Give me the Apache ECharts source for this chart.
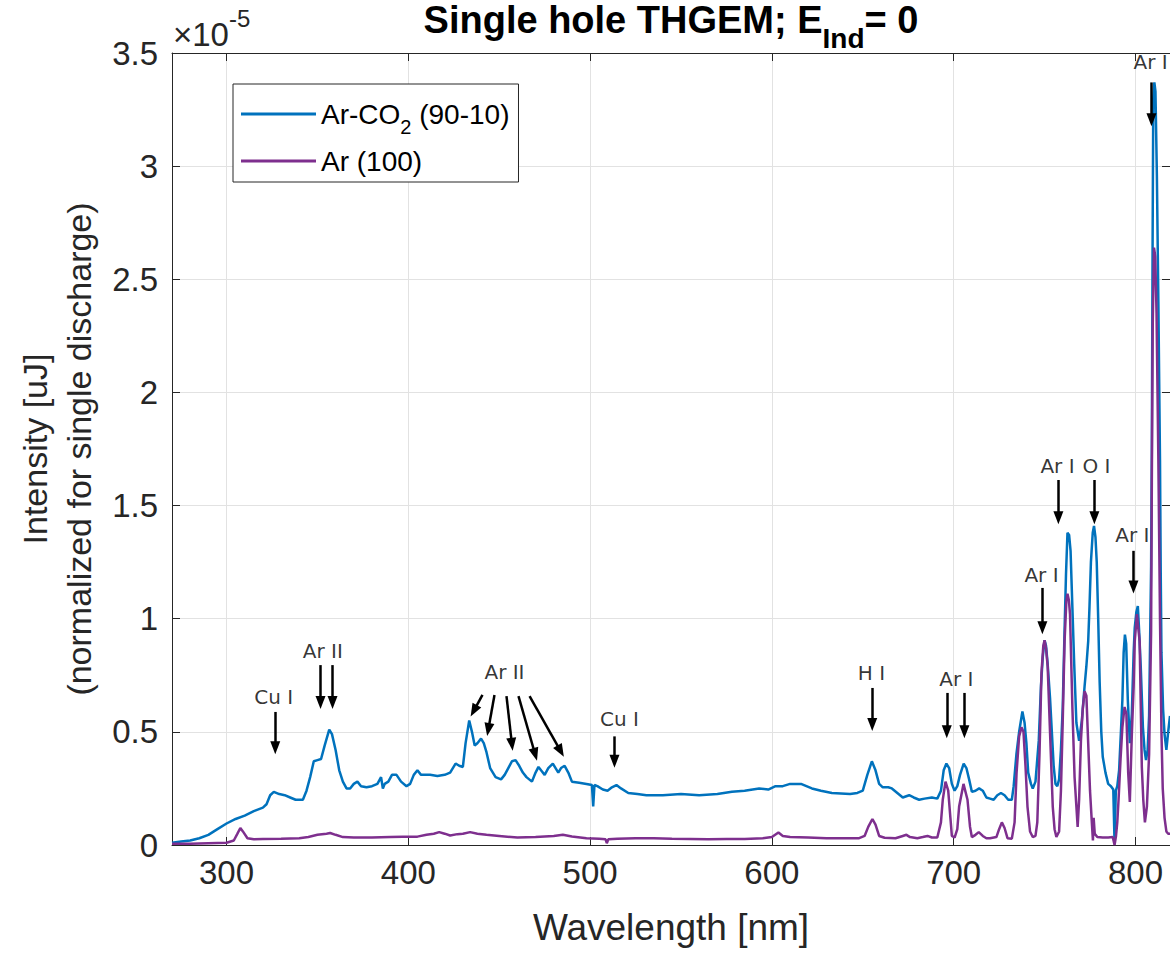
<!DOCTYPE html>
<html>
<head>
<meta charset="utf-8">
<script src="https://cdn.jsdelivr.net/npm/echarts@6/dist/echarts.min.js"></script>
<style>html,body{margin:0;padding:0;background:#fff}#c{width:1170px;height:954px}</style>
</head>
<body>
<div id="c"></div>
<script>
// ---- DATA (intensity in units of 1e-5 uJ, wavelength in nm) ----
const seriesNames = ['Ar-CO2 (90-10)', 'Ar (100)'];

const arCO2 = [
[270,0.01],[275,0.015],[280,0.02],[285,0.03],[290,0.045],[295,0.07],[300,0.095],[305,0.115],[310,0.13],[315,0.15],[320,0.165],[322,0.18],[324,0.22],[326,0.235],[329,0.225],[332,0.22],[335,0.21],[338,0.2],[342,0.2],[344,0.24],[346,0.3],[348,0.37],[350,0.375],[352,0.38],[354,0.44],[356.5,0.51],[358,0.49],[360,0.42],[362,0.33],[364,0.28],[366,0.25],[368,0.25],[370,0.27],[372,0.28],[374,0.26],[377,0.255],[380,0.26],[383,0.27],[385,0.3],[386,0.25],[387,0.27],[389,0.28],[391,0.31],[393.5,0.31],[396,0.28],[399,0.26],[401,0.27],[403,0.31],[405,0.33],[407,0.31],[409,0.31],[412,0.31],[416,0.305],[420,0.31],[423,0.32],[426,0.36],[428,0.35],[430,0.345],[431.5,0.45],[433.5,0.55],[435,0.5],[436.5,0.44],[438,0.45],[440,0.47],[441.5,0.45],[443,0.41],[445,0.34],[448,0.3],[451,0.29],[453,0.31],[455,0.34],[457,0.37],[459,0.375],[461,0.35],[463,0.32],[465,0.3],[468,0.28],[470,0.32],[471.6,0.345],[473,0.33],[475,0.31],[477,0.34],[479.5,0.36],[481,0.34],[482.5,0.32],[484,0.34],[486,0.35],[488,0.32],[490,0.28],[494,0.275],[498,0.27],[501,0.265],[501.7,0.17],[502.4,0.265],[504,0.26],[507,0.245],[509.6,0.24],[512,0.255],[514.5,0.265],[517,0.25],[521,0.23],[526,0.225],[531,0.22],[540,0.22],[550,0.225],[560,0.22],[570,0.225],[578,0.235],[585,0.24],[593,0.25],[598,0.245],[602,0.26],[606,0.26],[610,0.27],[616,0.27],[619,0.26],[622,0.25],[627,0.24],[633,0.23],[638,0.228],[643,0.225],[647,0.23],[650,0.24],[652.5,0.31],[655,0.37],[657,0.33],[659,0.27],[661,0.255],[664,0.255],[666,0.25],[669,0.23],[672,0.21],[675.5,0.22],[678,0.21],[681,0.2],[684,0.205],[688,0.21],[691,0.205],[693,0.24],[694.5,0.33],[696,0.36],[697.5,0.34],[699,0.27],[700.5,0.24],[702,0.26],[703.5,0.31],[705.5,0.36],[707,0.34],[708.5,0.29],[710,0.235],[712,0.24],[714,0.25],[716,0.24],[718,0.21],[720,0.205],[722,0.2],[724,0.22],[726,0.23],[728,0.22],[730,0.2],[732,0.2],[733,0.26],[734.5,0.4],[736,0.5],[737.8,0.59],[739,0.54],[740,0.45],[741,0.32],[742.5,0.27],[743.5,0.25],[745,0.28],[746.8,0.46],[748,0.7],[749,0.83],[750,0.905],[750.8,0.88],[751.7,0.8],[753,0.65],[754,0.5],[755,0.35],[756,0.27],[757,0.26],[758,0.29],[759,0.42],[760,0.61],[761,0.95],[761.8,1.2],[762.6,1.38],[763.5,1.37],[764.3,1.3],[765.3,1.05],[766.3,0.8],[767.5,0.54],[769,0.46],[770.5,0.55],[772,0.7],[773,0.79],[774,0.9],[774.7,1.05],[775.5,1.25],[776.5,1.38],[777.2,1.41],[778,1.36],[778.7,1.25],[779.5,1.0],[780.3,0.72],[781.2,0.5],[782,0.39],[783.5,0.32],[785,0.27],[786.5,0.26],[787.8,0.245],[788.5,0.01],[789.2,0.24],[790,0.26],[791,0.33],[792,0.5],[792.8,0.64],[793.5,0.85],[794.2,0.93],[794.9,0.89],[795.8,0.64],[796.9,0.45],[798,0.58],[799,0.85],[799.6,0.96],[800.5,1.03],[801.3,1.056],[802,0.95],[802.9,0.79],[804.1,0.52],[805,0.42],[805.8,0.375],[806.7,0.42],[807.5,0.57],[808.6,1.23],[809,1.75],[809.4,2.6],[809.8,3.3],[810.4,3.37],[811,3.33],[811.8,2.95],[812.6,2.4],[813.5,1.7],[813.9,1.2],[814.3,0.85],[815.2,0.6],[816,0.49],[817,0.42],[818,0.5],[819,0.57]
];

const ar100 = [
[270,0.005],[280,0.005],[290,0.008],[300,0.01],[304,0.02],[306,0.05],[307.6,0.075],[309,0.06],[311.5,0.03],[315,0.025],[320,0.027],[330,0.028],[340,0.03],[345,0.035],[350,0.045],[355,0.05],[357,0.053],[360,0.045],[364,0.035],[370,0.033],[380,0.033],[390,0.035],[397,0.036],[405,0.037],[410,0.045],[414,0.05],[417,0.057],[420,0.05],[423,0.042],[427,0.048],[430,0.05],[434,0.057],[438,0.05],[443,0.045],[450,0.04],[460,0.033],[470,0.035],[480,0.04],[485,0.045],[490,0.038],[498,0.03],[505,0.028],[508.5,0.025],[509.2,0.008],[510,0.025],[515,0.028],[525,0.03],[535,0.03],[545,0.028],[555,0.027],[565,0.025],[575,0.026],[585,0.027],[595,0.03],[600,0.035],[603.6,0.055],[606,0.04],[610,0.035],[620,0.033],[630,0.03],[640,0.03],[648,0.03],[651,0.04],[653,0.08],[655.3,0.115],[657,0.09],[659,0.04],[662,0.032],[668,0.03],[672,0.04],[674,0.045],[676,0.035],[680,0.03],[683,0.035],[685.6,0.04],[688,0.033],[691,0.033],[693,0.1],[694,0.2],[695.5,0.28],[697,0.24],[698.2,0.12],[699,0.04],[700.5,0.033],[702,0.07],[703,0.17],[705.4,0.27],[707.6,0.2],[709,0.08],[710,0.035],[712,0.045],[713.8,0.057],[716,0.04],[718,0.03],[720,0.03],[723.5,0.035],[725,0.07],[726.5,0.1],[728,0.075],[729.6,0.03],[732,0.028],[733.5,0.1],[734.6,0.32],[736,0.48],[737.3,0.52],[738.4,0.5],[739.5,0.35],[740.6,0.17],[742,0.06],[743.5,0.035],[745,0.04],[746,0.1],[747.2,0.4],[748.3,0.76],[749.3,0.88],[750,0.905],[750.8,0.87],[751.7,0.79],[753,0.5],[754.5,0.17],[755.5,0.07],[756.5,0.035],[758,0.06],[759,0.24],[760,0.55],[761,0.9],[762,1.08],[762.6,1.11],[763.4,1.08],[764,1.02],[765.3,0.61],[766.5,0.3],[767.5,0.17],[768.2,0.08],[769,0.2],[770,0.46],[771,0.6],[772,0.68],[773,0.66],[774,0.45],[775,0.24],[776,0.1],[776.6,0.02],[777,0.12],[777.6,0.05],[779,0.035],[782,0.033],[785,0.033],[787.5,0.035],[788.5,0.0],[789.3,0.04],[790,0.1],[790.7,0.2],[791.8,0.38],[792.8,0.52],[794,0.61],[795,0.58],[796,0.32],[796.9,0.19],[798,0.49],[799,0.7],[799.6,0.9],[800.8,1.02],[802.3,0.9],[803.5,0.345],[804.3,0.2],[805.2,0.1],[806.3,0.17],[807.5,0.4],[808.6,0.94],[809,1.6],[809.5,2.3],[810.2,2.64],[810.9,2.6],[811.6,2.35],[812.6,1.7],[813.5,1.0],[814.3,0.5],[815,0.25],[816,0.12],[817,0.06],[818,0.05],[819,0.05]
];

// emission-line annotations: [text, wavelength, intensity of text centre]
const lineLabels = [
['Cu I',326,0.654],['Ar II',353,0.857],['Ar II',452.9,0.765],['Cu I',516.2,0.557],
['H I',654.8,0.76],['Ar I',701.5,0.733],['Ar I',748.3,1.193],['Ar I',757.1,1.675],
['O I',778.5,1.675],['Ar I',798.3,1.37],['Ar I',808.3,3.46]
];
// arrows: [from wavelength, from intensity, to wavelength, to intensity]
const lineArrows = [
[326.8,0.588,326.8,0.43],[351.7,0.795,351.7,0.63],[358.3,0.795,358.3,0.63],
[440.8,0.663,436.0,0.593],[447.4,0.663,444.0,0.51],[454,0.658,457.0,0.445],[460.6,0.658,469.8,0.40],[466.7,0.658,483.8,0.415],
[513.4,0.48,513.4,0.37],[655.2,0.694,655.2,0.533],[696.2,0.672,696.2,0.50],[705.9,0.672,705.9,0.50],
[748.8,1.136,748.8,0.96],[757.6,1.613,757.6,1.446],[777.4,1.613,777.4,1.446],[798.9,1.30,798.9,1.14],[808.8,3.37,808.8,3.205]
];

const xRange = [270, 819];
const yRange = [0, 3.5];
const yStep = 0.5;

// ---- CHART ----
const FONT = '"Liberation Sans", Arial, Helvetica, sans-serif';
const AX = '#262626';
const GRIDC = '#e2e2e2';
const chart = echarts.init(document.getElementById('c'), null, {renderer: 'svg', width: 1170, height: 954});

const tickStyle = {inside: true, length: 8, lineStyle: {color: AX, width: 1}};
const option = {
  animation: false,
  backgroundColor: '#ffffff',
  textStyle: {fontFamily: FONT},
  title: [{
    text: '{a|×10}{b|-5}',
    left: 173, top: 6, padding: 0,
    textStyle: {fontWeight: 'normal', rich: {
      a: {fontSize: 33, fontWeight: 'normal', lineHeight: 34, padding: [12, 0, 0, 0], verticalAlign: 'top', color: AX, fontFamily: FONT},
      b: {fontSize: 24, fontWeight: 'normal', lineHeight: 24, verticalAlign: 'top', color: AX, fontFamily: FONT}
    }}
  }],
  grid: {left: 172, top: 53, width: 998, height: 792, containLabel: false, outerBoundsMode: 'none'},
  legend: {
    orient: 'vertical', left: 233, top: 84,
    data: seriesNames,
    backgroundColor: '#ffffff', borderColor: AX, borderWidth: 1, borderRadius: 0,
    padding: [7, 9, 7, 8], itemGap: 10, itemWidth: 75, itemHeight: 3, icon: 'rect',
    formatter: function (n) { return n === seriesNames[0] ? '{n|Ar-CO}{s|2}{n| (90-10)}' : '{n|' + n + '}'; },
    textStyle: {fontSize: 28, color: '#000', fontFamily: FONT, rich: {
      n: {fontSize: 28, lineHeight: 32, verticalAlign: 'middle', color: '#000', fontFamily: FONT},
      s: {fontSize: 20, lineHeight: 20, padding: [26, 0, 0, 0], verticalAlign: 'middle', color: '#000', fontFamily: FONT}
    }}
  },
  xAxis: [{
    type: 'value', position: 'bottom', min: xRange[0], max: xRange[1], splitNumber: 5,
    axisLine: {show: true, onZero: false, lineStyle: {color: AX, width: 1}},
    axisTick: tickStyle,
    axisLabel: {fontSize: 33, color: AX, margin: 11, showMinLabel: false, showMaxLabel: false, fontFamily: FONT},
    splitLine: {show: true, lineStyle: {color: GRIDC, width: 1}},
    name: 'Wavelength [nm]', nameLocation: 'middle', nameGap: 64,
    nameTextStyle: {fontSize: 37, color: AX, fontFamily: FONT}
  }, {
    type: 'value', position: 'top', min: xRange[0], max: xRange[1], splitNumber: 5,
    axisLine: {show: true, onZero: false, lineStyle: {color: AX, width: 1}},
    axisTick: tickStyle, axisLabel: {show: false}, splitLine: {show: false},
    name: '{m|Single hole THGEM; E}{s|Ind}{m|= 0}', nameLocation: 'middle', nameGap: 12,
    nameTextStyle: {rich: {
      m: {fontSize: 38, fontWeight: 'bold', lineHeight: 40, verticalAlign: 'top', color: '#000', fontFamily: FONT},
      s: {fontSize: 28, fontWeight: 'bold', lineHeight: 28, padding: [23, 0, 0, 0], verticalAlign: 'top', color: '#000', fontFamily: FONT}
    }}
  }],
  yAxis: [{
    type: 'value', position: 'left', min: yRange[0], max: yRange[1], interval: yStep,
    axisLine: {show: true, onZero: false, lineStyle: {color: AX, width: 1}},
    axisTick: {show: true, inside: true, length: 8, lineStyle: {color: AX, width: 1}},
    axisLabel: {fontSize: 33, color: AX, margin: 14, fontFamily: FONT},
    splitLine: {show: true, lineStyle: {color: GRIDC, width: 1}},
    name: 'Intensity [uJ]\n(normalized for single discharge)', nameLocation: 'middle', nameRotate: 90, nameGap: 70,
    nameTextStyle: {fontSize: 34, lineHeight: 44, color: AX, fontFamily: FONT, align: 'center'}
  }, {
    type: 'value', position: 'right', min: yRange[0], max: yRange[1], interval: yStep,
    axisLine: {show: true, onZero: false, lineStyle: {color: AX, width: 1}},
    axisTick: {show: true, inside: true, length: 8, lineStyle: {color: AX, width: 1}},
    axisLabel: {show: false}, splitLine: {show: false}
  }],
  series: [{
    name: seriesNames[0], type: 'line', data: arCO2, xAxisIndex: 0, yAxisIndex: 0,
    symbol: 'none', showSymbol: false, smooth: false, z: 2,
    lineStyle: {color: '#0072BD', width: 2.5}, itemStyle: {color: '#0072BD'},
    emphasis: {disabled: true}
  }, {
    name: seriesNames[1], type: 'line', data: ar100, xAxisIndex: 0, yAxisIndex: 0,
    symbol: 'none', showSymbol: false, smooth: false, z: 3,
    lineStyle: {color: '#7E2F8E', width: 2.5}, itemStyle: {color: '#7E2F8E'},
    emphasis: {disabled: true}
  }, {
    name: 'annotations', type: 'scatter', xAxisIndex: 0, yAxisIndex: 0, z: 5, silent: true,
    data: lineLabels.map(function (d) { return [d[1], d[2], d[0]]; }),
    symbolSize: 1, itemStyle: {color: 'rgba(0,0,0,0)'},
    label: {show: true, position: 'inside', formatter: function (p) { return p.value[2]; },
      fontSize: 20, color: '#000', fontFamily: '"DejaVu Sans", Verdana, sans-serif'},
    emphasis: {disabled: true},
    markLine: {
      silent: true, animation: false,
      symbol: ['none', 'triangle'], symbolSize: [10, 13],
      lineStyle: {color: '#000', width: 2.5, type: 'solid'},
      itemStyle: {color: '#000'},
      label: {show: false}, emphasis: {disabled: true},
      data: lineArrows.map(function (a) { return [{coord: [a[0], a[1]]}, {coord: [a[2], a[3]]}]; })
    }
  }]
};
chart.setOption(option);
</script>
</body>
</html>
